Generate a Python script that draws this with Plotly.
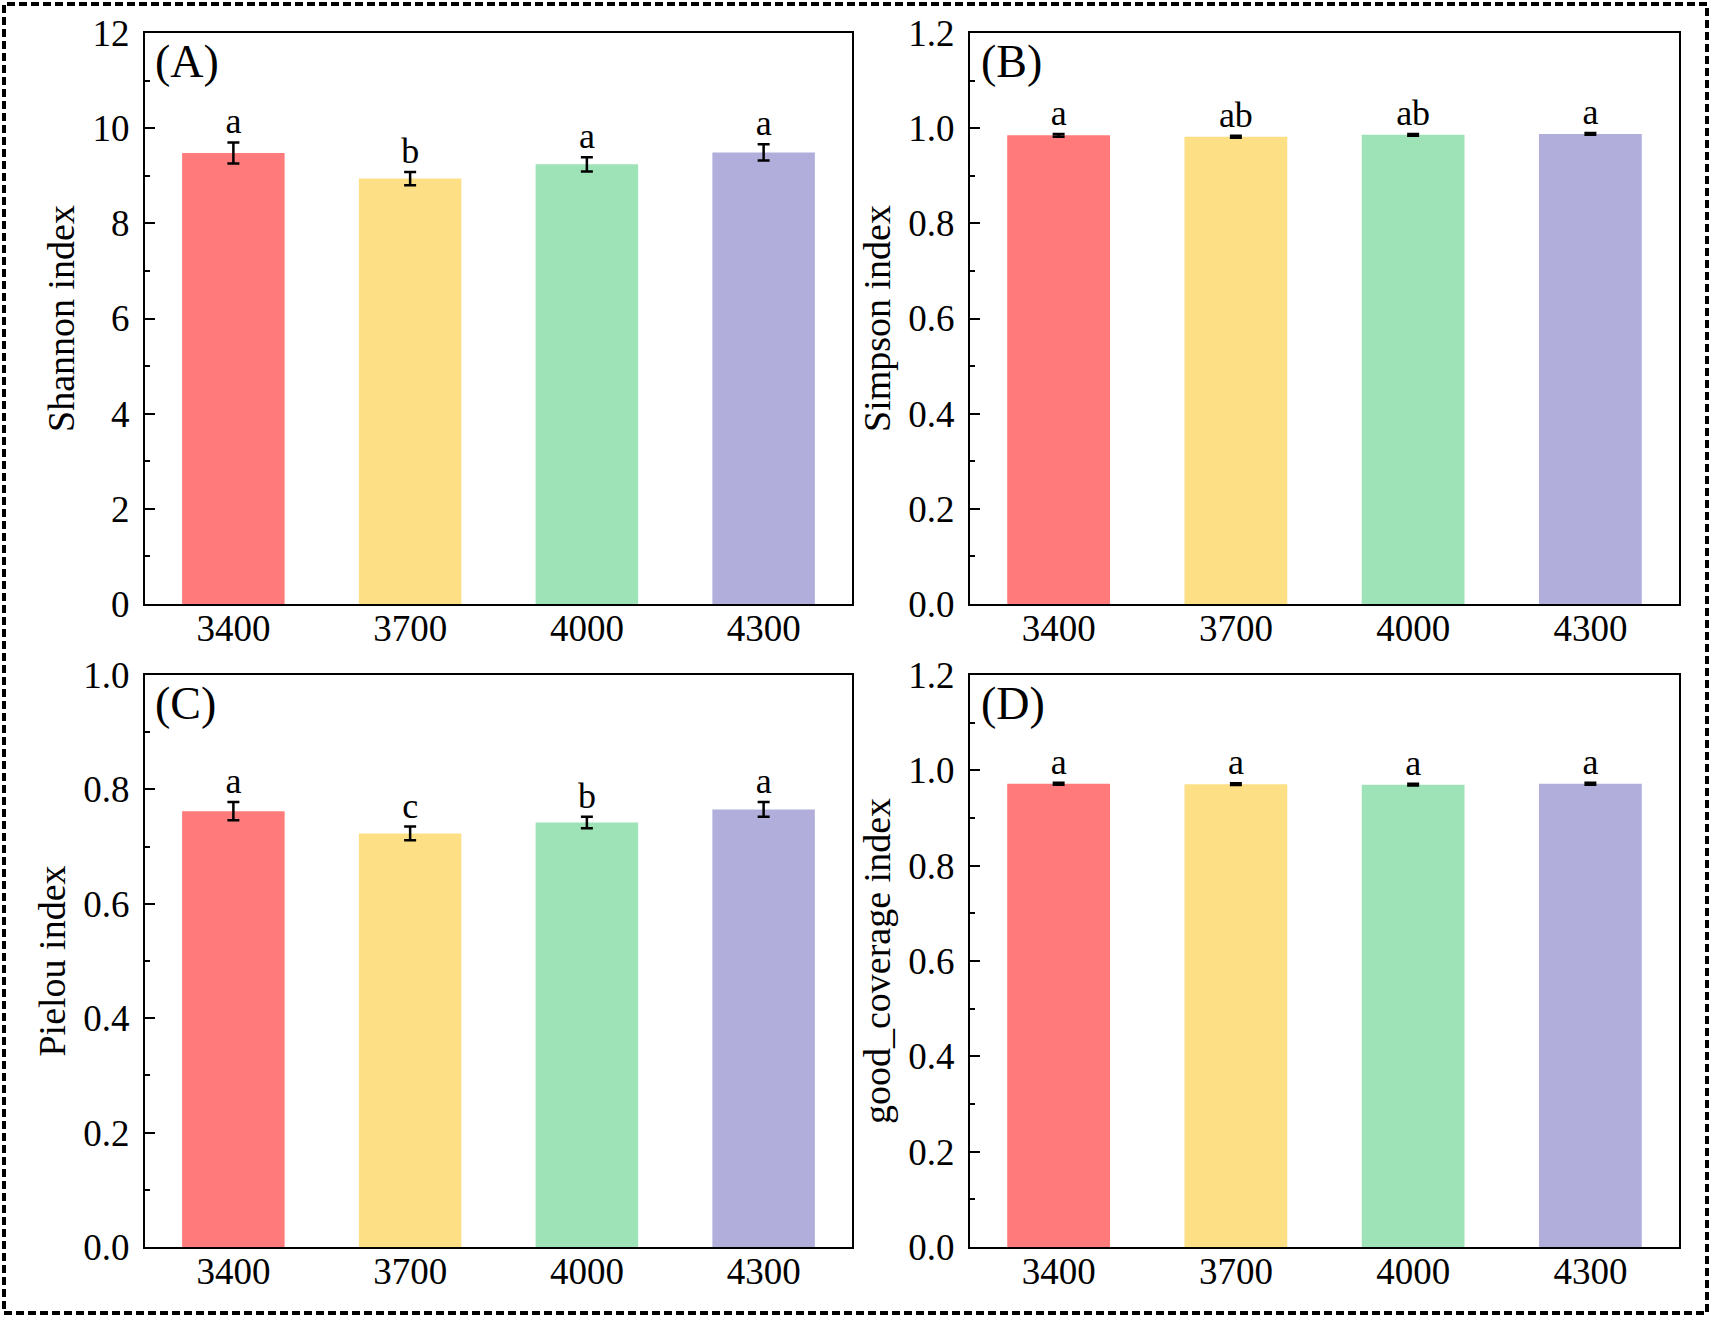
import plotly.graph_objects as go

# data
altitudes = ["3400", "3700", "4000", "4300"]
colors = ["#FF7B7B", "#FDDF86", "#9EE2B8", "#B1AEDC"]

shannon = [9.48, 8.94, 9.24, 9.49]
shannon_sd = [0.22, 0.14, 0.15, 0.17]
shannon_sig = ["a", "b", "a", "a"]

simpson = [0.985, 0.982, 0.986, 0.988]
simpson_sd = [0.003, 0.002, 0.002, 0.002]
simpson_sig = ["a", "ab", "ab", "a"]

pielou = [0.762, 0.723, 0.742, 0.765]
pielou_sd = [0.016, 0.012, 0.010, 0.013]
pielou_sig = ["a", "c", "b", "a"]

coverage = [0.972, 0.971, 0.970, 0.972]
coverage_sd = [0.002, 0.002, 0.002, 0.002]
coverage_sig = ["a", "a", "a", "a"]

FONT = "Times New Roman, Liberation Serif, serif"
W, H = 1713, 1318

panels = [
    ("(A)", "Shannon index", shannon, shannon_sd, shannon_sig, [0, 12], 2, 1),
    ("(B)", "Simpson index", simpson, simpson_sd, simpson_sig, [0, 1.2], 0.2, 0.1),
    ("(C)", "Pielou index", pielou, pielou_sd, pielou_sig, [0, 1.0], 0.2, 0.1),
    ("(D)", "good_coverage index", coverage, coverage_sd, coverage_sig, [0, 1.2], 0.2, 0.1),
]

# plot areas in pixels (left, right, top, bottom)
cols = [(145, 852), (970, 1679)]
rows = [(33, 604), (675, 1247)]

fig = go.Figure()
for i, (tag, title, vals, sds, sig, yr, dt, mdt) in enumerate(panels):
    n = i + 1
    xa = "x" if n == 1 else "x%d" % n
    ya = "y" if n == 1 else "y%d" % n
    c = cols[i % 2]
    r = rows[i // 2]
    fig.add_trace(go.Bar(
        x=altitudes, y=vals, xaxis=xa, yaxis=ya,
        marker=dict(color=colors, line=dict(width=0)),
        width=0.58,
        error_y=dict(type="data", array=sds, color="black", thickness=2.5, width=6),
        showlegend=False))
    # significance letters above the error bars
    fig.add_trace(go.Scatter(
        x=altitudes, y=[v + s for v, s in zip(vals, sds)], xaxis=xa, yaxis=ya,
        mode="text", text=sig, textposition="top center",
        textfont=dict(family=FONT, size=36, color="black"),
        hoverinfo="skip", showlegend=False))
    fig.update_layout(**{
        ("xaxis" if n == 1 else "xaxis%d" % n): dict(
            domain=[c[0] / W, c[1] / W], anchor=ya, type="category",
            range=[-0.5, 3.5], showline=True, mirror=True, linecolor="black",
            linewidth=2.2, ticks="", showgrid=False, ticklabelstandoff=-10,
            automargin=False,
            tickfont=dict(family=FONT, size=37, color="black")),
        ("yaxis" if n == 1 else "yaxis%d" % n): dict(
            domain=[1 - r[1] / H, 1 - r[0] / H], anchor=xa, range=yr,
            dtick=dt, showline=True, mirror=True, linecolor="black",
            linewidth=2.2, ticks="inside", ticklen=10, tickwidth=2,
            tickcolor="black", showgrid=False, zeroline=False,
            tickformat=".0f" if dt >= 1 else ".1f", ticklabelstandoff=6,
            automargin=False,
            minor=dict(dtick=mdt, ticks="inside", ticklen=5, tickwidth=2,
                       tickcolor="black", showgrid=False),
            tickfont=dict(family=FONT, size=37, color="black"),
            title=dict(text=title, font=dict(family=FONT, size=38, color="black"),
                       standoff=6)),
    })
    fig.add_annotation(text=tag, xref=xa + " domain", yref=ya + " domain",
                       x=0.012, y=0.998, xanchor="left", yanchor="top",
                       showarrow=False, font=dict(family=FONT, size=46, color="black"))

# dashed frame around the whole figure
fig.add_shape(type="rect", xref="paper", yref="paper",
              x0=4 / W, x1=1 - 6 / W, y0=5 / H, y1=1 - 4 / H,
              line=dict(color="black", width=4, dash="8px,4px"))

fig.update_layout(width=W, height=H,
                  margin=dict(l=0, r=0, t=0, b=0, autoexpand=False),
                  plot_bgcolor="white", paper_bgcolor="white")
fig.write_html("out.html", config={"displayModeBar": False},
               post_script="document.body.style.margin='0';"
                           "document.body.style.overflow='hidden';")
